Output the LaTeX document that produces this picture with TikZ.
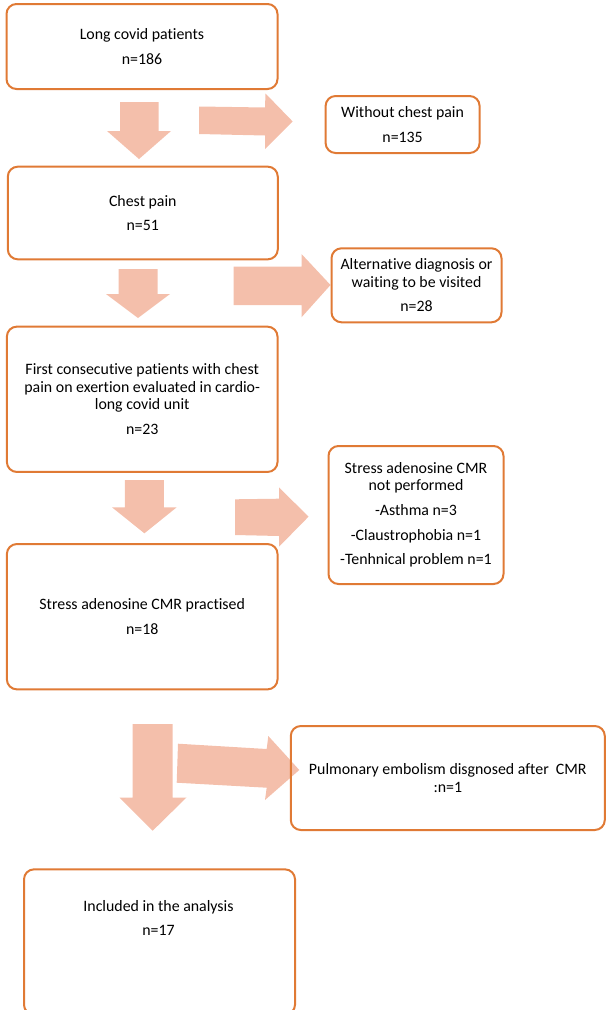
\documentclass[tikz,border=0pt]{standalone}
\usepackage{fontspec}
\setmainfont{Carlito}[Ligatures=NoCommon]
\usepackage{tikz}

\definecolor{boxorange}{HTML}{E07A35}
\definecolor{arrowpink}{HTML}{F4BFAB}
\newcommand{\pargap}{\\[5.4pt]}

\begin{document}
\begin{tikzpicture}[x=0.75pt,y=0.75pt,yscale=-1,xscale=1,
  flowbox/.style={draw=boxorange, line width=1.5pt, rounded corners=7.5pt, align=center, inner sep=0pt, font=\fontsize{11.9}{13.1}\selectfont},
  flowtext/.style={align=center, inner sep=0pt, font=\fontsize{11.9}{13.1}\selectfont},
  blockarrow/.style={fill=arrowpink, draw=none}]
\useasboundingbox (0,0) rectangle (606,1010);

%Shape: Down Arrow [id:a1d]
\path [blockarrow] (120,102) -- (158.5,102) -- (158.5,131) -- (171,131) -- (139,159) -- (107,131) -- (120,131) -- cycle ;
%Shape: Right Arrow [id:a1r]
\path [blockarrow] (199,106.5) -- (265,107.5) -- (265.5,93.5) -- (292.7,121.5) -- (265,149) -- (265,135.5) -- (199,134) -- cycle ;
%Shape: Down Arrow [id:a2d]
\path [blockarrow] (118.7,269) -- (157.7,269) -- (157.7,294) -- (170,294) -- (138,318) -- (106,294) -- (118.7,294) -- cycle ;
%Shape: Right Arrow [id:a2r]
\path [blockarrow] (233.5,266.7) -- (301.5,266.7) -- (301.5,254) -- (330.5,285) -- (301.5,317.3) -- (301.5,305) -- (233.5,305) -- cycle ;
%Shape: Down Arrow [id:a3d]
\path [blockarrow] (124.9,480) -- (163.9,480) -- (163.9,507.3) -- (176.7,507.3) -- (144.4,533.3) -- (112,507.3) -- (124.9,507.3) -- cycle ;
%Shape: Right Arrow [id:a3r]
\path [blockarrow] (235,499.3) -- (279,498.7) -- (279,487.3) -- (308.5,516.7) -- (279,546.7) -- (279,536) -- (235,535) -- cycle ;
%Shape: Down Arrow [id:a4d]
\path [blockarrow] (132.5,724) -- (172.5,724) -- (172.5,797.5) -- (186.5,797.5) -- (152.7,830.7) -- (119.5,797.5) -- (132.5,797.5) -- cycle ;
%Shape: Right Arrow [id:a4r]
\path [blockarrow] (178,743.7) -- (266.7,749) -- (268.3,736) -- (299.3,770) -- (265,800) -- (266.7,787.7) -- (176.7,782.7) -- cycle ;

% Box Nodes
\node (total) at (142,46.5) [flowbox, minimum width=203.25pt, minimum height=63.75pt] {Long covid patients\pargap n=186};
\node (nopain) at (402.6,124.5) [flowbox, minimum width=115.5pt, minimum height=42.75pt] {Without chest pain\pargap n=135};
\node (pain) at (142.8,213) [flowbox, minimum width=202.5pt, minimum height=69.5pt] {Chest pain\pargap n=51};
\node (altdiag) at (416.5,285.3) [flowbox, minimum width=127.5pt, minimum height=55.5pt] {Alternative diagnosis or\\waiting to be visited\pargap n=28};
\node (exertion) at (142.2,399.3) [flowbox, minimum width=203pt, minimum height=109pt] {First consecutive patients with chest\\pain on exertion evaluated in cardio-\\long covid unit\pargap n=23};
\node (notdone) at (416,515) [flowbox, minimum width=131.25pt, minimum height=103.5pt] {Stress adenosine CMR\\not performed\pargap -Asthma n=3\pargap -Claustrophobia n=1\pargap -Tenhnical problem n=1};
\node (cmr) at (142.2,616.7) [flowbox, minimum width=203pt, minimum height=109pt] {Stress adenosine CMR practised\pargap n=18};
\node (embolism) at (447.8,778) [flowbox, minimum width=235.5pt, minimum height=78pt] {Pulmonary embolism disgnosed after~~CMR\\:n=1};
\node (included) at (159.5,942) [flowbox, minimum width=203.25pt, minimum height=109pt] {};
% Text Node
\node (includedtext) at (158.5,918) [flowtext] {Included in the analysis\pargap n=17};
\end{tikzpicture}
\end{document}
